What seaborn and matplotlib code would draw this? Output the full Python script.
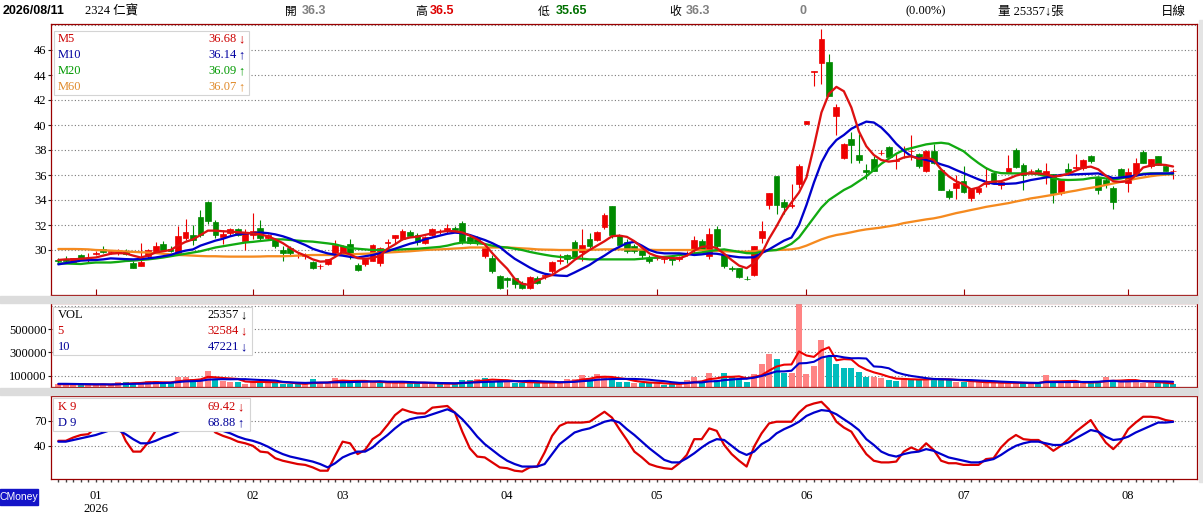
import numpy as np
import pandas as pd
import seaborn as sns
import matplotlib.pyplot as plt
import matplotlib.transforms as mtransforms
from matplotlib.patches import Rectangle

# ---- price data ----
opens = [29.2, 29.3, 29.05, 29.6, 29.3, 29.7, 30.1, 29.85, 29.75, 29.9,
         29.0, 28.75, 29.5, 29.85, 30.5, 30.1, 29.75, 30.95, 31.2, 32.65,
         33.85, 32.2, 31.05, 31.35, 31.65, 30.7, 31.2, 31.75, 30.95, 30.85,
         30.0, 30.15, 29.6, 29.5, 29.05, 28.7, 28.9, 29.75, 29.8, 30.5,
         28.8, 28.9, 29.15, 29.0, 30.6, 31.0, 30.85, 31.45, 31.2, 30.55,
         31.2, 31.5, 31.6, 31.8, 32.15, 31.05, 30.9, 29.55, 29.4, 27.9,
         27.75, 27.75, 27.35, 26.95, 27.75, 27.9, 28.3, 29.1, 29.6, 30.65,
         29.85, 30.85, 30.8, 31.85, 33.5, 31.2, 30.65, 30.3, 30.0, 29.4,
         29.4, 29.3, 29.4, 29.3, 29.65, 30.0, 30.75, 29.5, 31.65, 29.6,
         28.6, 28.55, 27.7, 28.0, 31.0, 33.6, 35.9, 33.85, 33.5, 35.3,
         40.1, 44.25, 45.0, 45.0, 40.7, 37.35, 38.9, 37.6, 36.4, 37.3,
         37.75, 38.25, 37.1, 38.0, 37.9, 37.7, 36.3, 37.95, 36.4, 34.75,
         34.95, 35.5, 34.15, 34.65, 35.3, 36.15, 35.2, 36.25, 38.0, 36.8,
         36.3, 36.4, 36.1, 36.1, 34.55, 36.45, 36.6, 36.55, 37.5, 35.85,
         35.6, 34.95, 36.45, 35.35, 36.0, 37.85, 36.7, 37.5, 36.7, 36.3]
highs = [29.35, 29.5, 29.4, 29.7, 29.75, 29.95, 30.3, 30.0, 30.05, 30.1,
         29.1, 30.6, 30.05, 30.65, 30.7, 30.3, 31.9, 32.5, 32.0, 33.2,
         33.95, 32.4, 31.6, 31.75, 31.8, 31.7, 33.0, 32.4, 31.3, 31.0,
         30.3, 30.3, 29.8, 29.8, 29.1, 28.9, 29.3, 30.8, 30.4, 30.85,
         29.0, 29.3, 30.5, 30.25, 30.85, 31.2, 31.65, 31.6, 31.35, 31.1,
         31.75, 31.7, 32.05, 31.9, 32.35, 31.3, 31.1, 30.3, 29.6, 28.0,
         27.85, 27.8, 27.5, 27.95, 27.9, 28.1, 29.1, 29.7, 29.7, 30.8,
         31.7, 31.4, 31.5, 32.95, 33.55, 31.3, 30.9, 30.5, 30.3, 29.6,
         29.6, 29.5, 29.6, 29.5, 29.9, 31.1, 30.9, 31.75, 31.9, 29.8,
         28.7, 28.6, 27.9, 30.3, 32.3, 34.6, 35.9, 34.1, 35.3, 36.9,
         40.3, 44.3, 47.65, 45.7, 41.7, 38.6, 39.45, 39.3, 36.9, 37.5,
         38.0, 38.3, 37.7, 38.3, 39.2, 37.8, 38.0, 38.5, 36.5, 34.9,
         36.0, 36.7, 34.9, 35.0, 36.65, 36.3, 35.5, 37.6, 38.15, 36.95,
         36.5, 36.6, 37.0, 36.1, 35.6, 37.0, 37.7, 37.3, 37.6, 35.9,
         35.8, 35.1, 36.6, 36.55, 37.35, 38.0, 37.25, 37.55, 36.8, 36.5]
lows = [28.95, 29.0, 28.95, 29.2, 29.05, 29.6, 29.8, 29.7, 29.6, 29.6,
        28.6, 28.7, 29.4, 29.75, 29.95, 29.85, 29.7, 30.8, 30.4, 31.05,
        32.1, 31.0, 30.5, 31.1, 31.1, 30.0, 30.9, 30.8, 30.8, 30.2,
        29.1, 29.6, 29.4, 29.3, 28.5, 28.5, 28.8, 29.6, 29.7, 29.25,
        28.3, 28.75, 29.1, 28.75, 30.0, 30.6, 30.8, 31.1, 30.4, 30.5,
        31.1, 31.3, 31.35, 31.5, 30.5, 30.5, 30.4, 29.4, 28.2, 26.9,
        27.05, 27.0, 26.9, 26.85, 27.3, 27.7, 28.2, 28.9, 29.0, 29.3,
        29.1, 30.2, 30.7, 31.7, 31.0, 30.4, 29.8, 29.8, 29.3, 29.0,
        29.2, 29.0, 28.8, 29.1, 29.5, 29.7, 29.9, 29.3, 30.0, 28.6,
        28.3, 27.8, 27.6, 27.9, 30.6, 33.3, 32.9, 32.9, 33.4, 35.0,
        40.05, 43.1, 43.3, 42.3, 39.2, 37.3, 37.0, 37.0, 35.7, 36.3,
        37.6, 37.4, 36.5, 37.4, 37.2, 36.6, 36.2, 36.9, 34.8, 34.1,
        34.1, 34.6, 33.95, 34.5, 35.05, 35.3, 34.9, 36.2, 36.55, 34.8,
        36.1, 36.1, 35.3, 33.75, 34.4, 36.1, 36.5, 36.4, 37.0, 34.5,
        35.0, 33.25, 35.8, 34.65, 35.9, 36.95, 36.6, 36.8, 36.3, 35.65]
closes = [29.1, 29.15, 29.35, 29.25, 29.4, 29.75, 29.85, 29.9, 30.0, 29.7,
          28.6, 29.05, 30.0, 30.3, 30.0, 29.9, 31.1, 31.45, 30.8, 31.2,
          32.3, 31.2, 31.3, 31.65, 31.2, 31.35, 31.5, 30.95, 31.2, 30.3,
          29.8, 29.75, 29.6, 29.6, 28.55, 28.7, 29.3, 30.4, 30.3, 29.8,
          28.4, 29.3, 30.4, 30.2, 30.65, 31.2, 31.5, 31.15, 30.65, 31.05,
          31.65, 31.5, 31.8, 31.6, 30.65, 30.55, 30.55, 30.2, 28.3, 26.95,
          27.6, 27.3, 26.95, 27.85, 27.35, 28.0, 29.05, 29.2, 29.3, 29.45,
          30.4, 30.3, 31.45, 32.8, 31.2, 30.4, 29.9, 29.95, 29.6, 29.15,
          29.45, 29.35, 29.2, 29.45, 29.7, 30.8, 30.0, 31.3, 30.3, 28.7,
          28.45, 27.85, 27.65, 30.3, 31.55, 34.6, 33.6, 33.45, 33.6, 36.7,
          40.3, 44.3, 46.9, 42.3, 41.4, 38.5, 38.4, 37.2, 36.25, 36.35,
          37.8, 37.45, 37.2, 38.0, 37.9, 36.7, 37.9, 36.95, 34.8, 34.25,
          35.35, 34.65, 34.85, 34.95, 35.35, 35.35, 35.45, 36.55, 36.65, 36.0,
          36.3, 36.2, 36.3, 34.55, 35.6, 36.2, 36.65, 37.2, 37.15, 34.8,
          35.3, 33.85, 35.9, 36.25, 36.95, 37.0, 37.25, 36.8, 36.35, 36.3]

ma5 = [29.2, 29.25, 29.25, 29.3, 29.35, 29.4, 29.55, 29.7, 29.75, 29.73,
       29.55, 29.4, 29.55, 29.8, 29.9, 30.0, 30.35, 30.65, 30.85, 31.2,
       31.55, 31.55, 31.5, 31.48, 31.42, 31.38, 31.33, 31.25, 31.1, 30.85,
       30.55, 30.15, 29.8, 29.55, 29.25, 29.07, 29.1, 29.45, 29.85, 29.65,
       29.35, 29.3, 29.35, 29.55, 30.1, 30.45, 30.85, 31.0, 31.07, 31.2,
       31.35, 31.45, 31.52, 31.5, 31.4, 31.15, 30.85, 30.45, 29.75, 29.1,
       28.5, 27.7, 27.3, 27.2, 27.55, 27.8, 28.0, 28.4, 28.7, 29.2,
       29.6, 30.0, 30.35, 30.7, 31.1, 31.15, 31.05, 30.7, 30.2, 29.73,
       29.5, 29.4, 29.35, 29.33, 29.55, 29.95, 30.25, 30.3, 30.15, 29.7,
       29.2, 28.75, 28.55, 28.95, 29.7, 30.9, 31.9, 33.0, 33.8, 34.6,
       35.8, 38.3, 41.0, 42.5, 43.05, 42.7, 41.4, 39.5, 38.3, 37.6,
       37.2, 37.07, 37.15, 37.4, 37.5, 37.3, 37.4, 37.2, 36.45, 35.9,
       35.5, 35.25, 34.85, 35.0, 35.4, 35.47, 35.5, 35.7, 35.95, 36.1,
       36.13, 36.13, 36.05, 35.87, 35.95, 36.1, 36.35, 36.6, 36.67, 36.45,
       35.95, 35.5, 35.45, 35.5, 35.95, 36.6, 36.75, 36.85, 36.8, 36.68]
ma10 = [28.85, 28.95, 29.05, 29.15, 29.18, 29.2, 29.25, 29.33, 29.3, 29.27,
        29.25, 29.28, 29.33, 29.4, 29.5, 29.6, 29.8, 29.95, 30.05, 30.35,
        30.55, 30.75, 30.9, 31.1, 31.25, 31.33, 31.35, 31.4, 31.35, 31.25,
        31.1, 30.9, 30.65, 30.4, 30.1, 29.9, 29.73, 29.62, 29.55, 29.45,
        29.4, 29.5, 29.6, 29.75, 29.9, 30.1, 30.3, 30.5, 30.65, 30.85,
        31.0, 31.15, 31.3, 31.39, 31.35, 31.2, 31.0, 30.8, 30.55, 30.25,
        29.75, 29.3, 28.95, 28.6, 28.3, 28.1, 28.0, 27.95, 27.92, 28.2,
        28.5, 28.8, 29.2, 29.55, 29.95, 30.25, 30.55, 30.65, 30.35, 30.0,
        29.8, 29.73, 29.73, 29.73, 29.68, 29.6, 29.65, 29.73, 29.7, 29.6,
        29.5, 29.42, 29.4, 29.42, 29.75, 30.05, 30.4, 30.75, 31.0, 32.0,
        33.6, 35.4, 37.0, 38.1, 38.8, 39.2, 39.7, 40.0, 40.27, 40.2,
        39.8, 39.2, 38.5, 37.95, 37.5, 37.35, 37.2, 37.07, 36.85, 36.67,
        36.4, 36.15, 35.9, 35.65, 35.45, 35.3, 35.28, 35.3, 35.33, 35.45,
        35.6, 35.7, 35.8, 35.9, 36.0, 36.03, 36.05, 36.08, 36.1, 36.13,
        35.95, 35.75, 35.8, 35.87, 35.95, 36.05, 36.1, 36.12, 36.13, 36.14]
ma20 = [28.93, 28.92, 28.9, 28.88, 28.95, 29.0, 29.0, 29.0, 29.05, 29.12,
        29.15, 29.2, 29.25, 29.32, 29.4, 29.5, 29.6, 29.7, 29.8, 29.9,
        30.05, 30.2, 30.3, 30.4, 30.5, 30.6, 30.65, 30.72, 30.78, 30.85,
        30.85, 30.8, 30.75, 30.7, 30.67, 30.6, 30.53, 30.45, 30.3, 30.15,
        30.1, 30.05, 30.0, 30.0, 30.0, 30.02, 30.05, 30.08, 30.1, 30.15,
        30.2, 30.25, 30.35, 30.5, 30.6, 30.6, 30.55, 30.48, 30.35, 30.25,
        30.2, 30.1, 30.0, 29.85, 29.73, 29.62, 29.52, 29.45, 29.4, 29.35,
        29.3, 29.25, 29.25, 29.25, 29.25, 29.25, 29.25, 29.25, 29.3, 29.35,
        29.4, 29.45, 29.5, 29.6, 29.65, 29.73, 29.8, 29.9, 30.0, 30.05,
        29.95, 29.85, 29.75, 29.73, 29.85, 29.95, 30.0, 30.2, 30.5, 31.0,
        31.8, 32.6, 33.4, 34.0, 34.4, 34.8, 35.1, 35.5, 35.9, 36.4,
        36.9, 37.3, 37.7, 38.0, 38.15, 38.3, 38.45, 38.53, 38.58, 38.5,
        38.2, 37.9, 37.4, 36.95, 36.55, 36.27, 36.15, 36.13, 36.13, 36.13,
        36.13, 36.05, 35.9, 35.75, 35.62, 35.6, 35.62, 35.65, 35.75, 35.81,
        35.72, 35.65, 35.72, 35.85, 35.95, 36.1, 36.13, 36.12, 36.1, 36.09]
ma60 = [30.08, 30.08, 30.08, 30.07, 30.05, 30.0, 29.98, 29.95, 29.92, 29.88,
        29.85, 29.82, 29.8, 29.75, 29.7, 29.65, 29.6, 29.58, 29.55, 29.52,
        29.5, 29.5, 29.48, 29.47, 29.47, 29.47, 29.47, 29.48, 29.5, 29.5,
        29.5, 29.52, 29.55, 29.58, 29.6, 29.6, 29.6, 29.6, 29.62, 29.65,
        29.68, 29.7, 29.73, 29.77, 29.8, 29.83, 29.87, 29.9, 29.95, 30.0,
        30.03, 30.05, 30.08, 30.12, 30.15, 30.2, 30.2, 30.2, 30.2, 30.2,
        30.2, 30.17, 30.13, 30.1, 30.05, 30.03, 30.02, 30.0, 30.0, 30.0,
        30.0, 30.02, 30.03, 30.05, 30.05, 30.05, 30.05, 30.05, 30.03, 30.02,
        30.0, 30.0, 30.0, 30.0, 30.0, 30.0, 29.98, 29.95, 29.93, 29.9,
        29.88, 29.87, 29.87, 29.9, 29.95, 30.0, 30.0, 30.02, 30.05, 30.15,
        30.35, 30.6, 30.85, 31.05, 31.2, 31.3, 31.42, 31.55, 31.65, 31.72,
        31.8, 31.9, 32.0, 32.15, 32.25, 32.35, 32.45, 32.53, 32.65, 32.8,
        32.95, 33.07, 33.2, 33.32, 33.45, 33.55, 33.65, 33.75, 33.88, 34.0,
        34.13, 34.22, 34.32, 34.42, 34.53, 34.65, 34.75, 34.87, 34.97, 35.07,
        35.2, 35.32, 35.45, 35.58, 35.7, 35.8, 35.9, 35.98, 36.03, 36.07]

# ---- volume (thousand lots) ----
vol_k = [25, 22, 30, 28, 22, 18, 25, 20, 46, 46,
         40, 34, 50, 54, 36, 34, 86, 86, 68, 68,
         140, 69, 57, 48, 48, 30, 48, 55, 45, 40,
         32, 30, 25, 25, 71, 43, 43, 77, 57, 50,
         48, 45, 45, 40, 35, 40, 45, 40, 35, 34,
         30, 28, 34, 30, 63, 60, 71, 77, 57, 50,
         48, 40, 38, 45, 40, 35, 45, 40, 71, 71,
         106, 77, 115, 86, 63, 48, 45, 40, 40, 34,
         34, 20, 28, 28, 63, 86, 48, 126, 63, 126,
         86, 69, 48, 115, 201, 287, 244, 126, 126, 760,
         115, 183, 408, 258, 201, 164, 169, 135, 92, 86,
         77, 63, 57, 77, 69, 69, 69, 69, 69, 63,
         48, 48, 43, 43, 40, 40, 34, 40, 40, 34,
         34, 34, 106, 48, 40, 40, 43, 40, 40, 57,
         86, 55, 50, 63, 57, 35, 35, 34, 33, 25.357]
vol_ma5_k = [26, 26, 26, 26, 25, 24, 25, 23, 26, 31,
             35, 37, 43, 45, 43, 42, 52, 59, 62, 68,
             90, 86, 80, 76, 72, 50, 46, 46, 45, 44,
             44, 40, 34, 30, 37, 39, 41, 52, 58, 54,
             55, 55, 49, 46, 43, 41, 41, 40, 39, 39,
             37, 33, 32, 31, 37, 43, 52, 60, 66, 63,
             61, 54, 47, 44, 42, 40, 41, 41, 46, 52,
             67, 73, 88, 91, 89, 78, 71, 56, 47, 41,
             39, 34, 31, 29, 35, 45, 51, 70, 77, 90,
             90, 94, 78, 89, 104, 144, 179, 195, 197, 309,
             274, 262, 318, 345, 233, 243, 240, 185, 152, 129,
             112, 91, 75, 72, 69, 67, 68, 71, 69, 68,
             64, 59, 54, 49, 44, 43, 40, 39, 39, 38,
             36, 36, 50, 51, 52, 54, 55, 42, 41, 44,
             53, 56, 58, 62, 62, 52, 48, 45, 39, 32.584]
vol_ma10_k = [30, 30, 29, 28, 27, 26, 26, 25, 26, 28,
              30, 31, 33, 36, 37, 39, 45, 51, 53, 56,
              66, 69, 70, 69, 70, 70, 66, 63, 61, 58,
              47, 43, 40, 38, 40, 41, 41, 43, 44, 45,
              47, 48, 50, 52, 48, 48, 48, 45, 42, 41,
              39, 37, 36, 35, 38, 40, 43, 46, 48, 50,
              52, 53, 53, 55, 53, 50, 48, 44, 45, 47,
              53, 57, 65, 69, 71, 72, 72, 72, 69, 65,
              58, 53, 44, 38, 38, 42, 42, 51, 53, 62,
              67, 72, 74, 83, 97, 117, 137, 137, 143, 206,
              209, 220, 256, 270, 270, 258, 250, 251, 248, 180,
              176, 164, 129, 111, 98, 89, 79, 72, 70, 68,
              65, 63, 62, 58.5, 56, 53, 49, 46, 43, 40.5,
              39, 38, 45, 45, 45, 45, 46, 46, 46, 48,
              53, 56, 50, 51, 53, 53, 52, 51, 50.5, 47.221]

# ---- KD(9) ----
k9 = [46, 46, 50, 53, 54, 62, 70, 72, 66, 46,
      33, 33, 44, 58, 68, 74, 80, 84, 82, 78,
      66, 56, 52, 49, 45, 43, 40, 33, 32, 25,
      22, 20, 18, 17, 14, 10, 10, 28, 45, 43,
      30, 35, 48, 54, 65, 77, 84, 81, 79, 79,
      86, 87, 88, 80, 57, 37, 27, 26, 20, 14,
      13, 10, 9, 14, 15, 32, 52, 64, 68, 68,
      68, 69, 75, 81, 74, 60, 47, 33, 26, 18,
      15, 13, 12, 19, 29, 48, 48, 61, 58, 41,
      30, 22, 15, 39, 55, 67, 69, 69, 69, 80,
      88, 91, 93, 84, 69, 62, 57, 43, 30, 22,
      20, 20, 21, 33, 38, 34, 43, 35, 22, 19,
      19, 17, 17, 17, 24, 25, 38, 47, 53, 48,
      47, 47, 41, 34, 40, 48, 57, 64, 71, 57,
      44, 36, 45, 60, 68, 75, 75, 74, 71, 69.42]
d9 = [45, 45, 47, 49, 51, 53, 56, 59, 59, 54,
      48, 43, 43, 46, 50, 53, 57, 61, 65, 68,
      67, 62, 58, 55, 51, 48, 46, 43, 39, 34,
      30, 27, 25, 23, 21, 18, 14, 19, 26, 30,
      33, 33, 38, 46, 53, 61, 68, 72, 74, 75,
      78, 81, 84, 80, 72, 62, 51, 42, 35, 28,
      22, 18, 15, 15, 15, 18, 30, 42, 49, 56,
      59, 61, 65, 69, 71, 68, 60, 53, 45, 37,
      30, 23, 20, 20, 25, 31, 38, 44, 48, 47,
      40, 33, 29, 33, 42, 47, 55, 60, 64, 69,
      76, 80, 83, 82, 78, 72, 66, 59, 48, 41,
      33, 29, 27, 30, 32, 33, 36, 34, 30, 26,
      24, 22, 20, 20, 22, 24, 29, 35, 40, 43,
      45, 45, 43, 41, 41, 44, 49, 54, 59, 57,
      51, 47, 48, 51, 56, 60, 64, 68, 68, 68.88]

month_idx = [5, 26, 38, 60, 80, 100, 121, 143]
month_labels = ['01', '02', '03', '04', '05', '06', '07', '08']

price_ticks = [30, 32, 34, 36, 38, 40, 42, 44, 46]
price_grid = [30, 32, 34, 36, 38, 40, 42, 44, 46, 48]
vol_ticks = [100000, 300000, 500000]
vol_grid = [100000, 300000, 500000, 700000]
kd_ticks = [40, 70]

# ---- colours ----
RED = '#EE0000'
GREEN = '#008A00'
FRAME = '#9A0000'
C_MA5 = '#DD1111'
C_MA10 = '#0000CC'
C_MA20 = '#11AA11'
C_MA60 = '#F58A1F'
VOL_UP = '#FF8484'
VOL_DN = '#00BDBD'

df = pd.DataFrame({'i': np.arange(len(closes)), 'o': opens, 'h': highs, 'l': lows,
                   'c': closes, 'ma5': ma5, 'ma10': ma10, 'ma20': ma20, 'ma60': ma60,
                   'vol': np.array(vol_k) * 1000, 'v5': np.array(vol_ma5_k) * 1000,
                   'v10': np.array(vol_ma10_k) * 1000, 'k': k9, 'd': d9})

sns.set_theme(style='white')
plt.rcParams['font.family'] = ['Liberation Serif', 'Noto Sans CJK TC', 'DejaVu Sans']

W, H = 1203, 515
fig = plt.figure(figsize=(W / 100, H / 100), dpi=100)
fig.patch.set_facecolor('white')
pix = mtransforms.Affine2D().scale(1.0 / W, -1.0 / H).translate(0, 1) + fig.transFigure


def panel(l, t, r, b):
    return fig.add_axes([l / W, 1 - b / H, (r - l) / W, (b - t) / H])


ax_p = panel(51, 24, 1197, 295)
ax_v = panel(51, 303.3, 1197, 387.3)
ax_k = panel(51, 396, 1197, 479)

# gray bands between panels and right strip
for (x0, y0, w, h) in [(0, 296, W, 7), (0, 388.3, W, 7)]:
    fig.add_artist(Rectangle((x0, y0), w, h, transform=pix, color='#DCDCDC', zorder=1))
fig.add_artist(Rectangle((1198.5, 20), 5, 462, transform=pix, color='#E4E4E4', zorder=1))

# ---- candles ----
up = df['c'] >= df['o']
ccol = np.where(up, RED, GREEN)
ax_p.vlines(df['i'], df['l'], df['h'], colors=ccol, linewidth=0.8, zorder=2)
body = (df['c'] - df['o']).abs().clip(lower=0.001)
ax_p.bar(df['i'], body, bottom=np.minimum(df['o'], df['c']), width=0.78,
         color=ccol, edgecolor=ccol, linewidth=0.5, zorder=3)

for col, c in [('ma60', C_MA60), ('ma20', C_MA20), ('ma10', C_MA10), ('ma5', C_MA5)]:
    sns.lineplot(data=df, x='i', y=col, ax=ax_p, color=c, linewidth=1.65,
                 estimator=None, sort=False, legend=False, zorder=4)

# ---- volume ----
prev = df['c'].shift(1).fillna(df['c'].iloc[0])
vcol = np.where(df['c'] >= prev, VOL_UP, VOL_DN)
ax_v.bar(df['i'], df['vol'], width=0.8, color=vcol, linewidth=0, zorder=2)
sns.lineplot(data=df, x='i', y='v5', ax=ax_v, color=RED, linewidth=1.5,
             estimator=None, sort=False, legend=False, zorder=4)
sns.lineplot(data=df, x='i', y='v10', ax=ax_v, color=C_MA10, linewidth=1.5,
             estimator=None, sort=False, legend=False, zorder=4)

# ---- KD ----
sns.lineplot(data=df, x='i', y='k', ax=ax_k, color='#DD0000', linewidth=1.6,
             estimator=None, sort=False, legend=False, zorder=4)
sns.lineplot(data=df, x='i', y='d', ax=ax_k, color=C_MA10, linewidth=1.6,
             estimator=None, sort=False, legend=False, zorder=4)

# ---- axes styling ----
dotted = dict(linestyle=(0, (1, 2)), color='#7A7A7A', linewidth=0.8, zorder=1)
for y in price_grid:
    ax_p.axhline(y, **dotted)
for y in vol_grid:
    ax_v.axhline(y, **dotted)
for y in kd_ticks:
    ax_k.axhline(y, **dotted)

ax_p.set_ylim(26.4, 48.08)
ax_v.set_ylim(0, 724000)
ax_k.set_ylim(0, 100)
ax_p.set_yticks(price_ticks, [str(v) for v in price_ticks])
ax_v.set_yticks(vol_ticks, [str(v) for v in vol_ticks])
ax_k.set_yticks(kd_ticks, [str(v) for v in kd_ticks])

for ax in (ax_p, ax_v, ax_k):
    ax.set_xlim(-0.98, 152.2)
    ax.set_xlabel('')
    ax.set_ylabel('')
    ax.set_facecolor('white')
    for s in ax.spines.values():
        s.set_visible(True)
        s.set_color(FRAME)
        s.set_linewidth(0.9)
    ax.tick_params(axis='y', which='major', left=True, length=2, width=0.8,
                   color='#222222', pad=1.2, labelsize=9, labelcolor='black')

ax_p.set_xticks(month_idx)
ax_p.tick_params(axis='x', which='major', bottom=True, direction='in', length=4,
                 width=0.8, color=FRAME, labelbottom=False)
ax_v.set_xticks([])
ax_k.set_xticks([])
ax_k.set_xticks(df['i'], minor=True)
ax_k.tick_params(axis='x', which='minor', bottom=True, direction='out', length=2,
                 width=1, color='#444444', labelbottom=False)

# month labels under the KD panel
lab_tr = mtransforms.blended_transform_factory(ax_k.transData, pix)
for pos, lab in zip(month_idx, month_labels):
    ax_k.text(pos, 496, lab, transform=lab_tr, ha='center', va='center',
              fontsize=9, color='black', clip_on=False)
ax_k.text(month_idx[0], 509, '2026', transform=lab_tr, ha='center', va='center',
          fontsize=9, color='black', clip_on=False)


# ---- legend boxes ----
def legend_box(x0, y0, x1, y1, rows, ys, xl, xr):
    fig.add_artist(Rectangle((x0, y0), x1 - x0, y1 - y0, transform=pix, facecolor='white',
                             edgecolor='#D4D4D4', linewidth=0.8, zorder=5))
    for (lab, val, arrow, c), y in zip(rows, ys):
        fig.text(xl, y, lab, transform=pix, color=c, fontsize=9, va='center', ha='left', zorder=6)
        fig.text(xr - 8, y, val, transform=pix, color=c, fontsize=9, va='center', ha='right', zorder=6)
        fig.text(xr, y, arrow, transform=pix, color=c, fontsize=9, va='center', ha='right', zorder=6)


legend_box(54, 31, 249, 95,
           [('M5', '36.68', '↓', '#CC0000'), ('M10', '36.14', '↑', '#0000A0'),
            ('M20', '36.09', '↑', '#009900'), ('M60', '36.07', '↑', '#E08A2A')],
           [39, 55, 71, 87], 57.5, 245)
legend_box(53, 307, 252, 355,
           [('VOL', '25357', '↓', 'black'), ('5', '32584', '↓', '#CC0000'),
            ('10', '47221', '↓', '#000099')],
           [315, 331, 347], 57.5, 247)
legend_box(53, 398, 250, 431,
           [('K 9', '69.42', '↓', '#CC0000'), ('D 9', '68.88', '↑', '#000099')],
           [407.5, 423], 57.5, 244)

# ---- header ----
sans_b = dict(family=['Liberation Sans', 'DejaVu Sans'], fontweight='bold')
cjk = ['Noto Sans CJK TC', 'DejaVu Sans']
hy = 11.5
fig.text(3, hy, '2026/08/11', transform=pix, fontsize=9, va='center', color='black', **sans_b)
fig.text(85, hy, '2324 仁寶', transform=pix, fontsize=9, va='center', color='black')
for x, ch, vx, val, c in [(285, '開', 302, '36.3', '#808080'), (415, '高', 430, '36.5', '#DD0000'),
                          (538, '低', 556, '35.65', '#007000'), (669, '收', 686, '36.3', '#808080')]:
    fig.text(x, hy, ch, transform=pix, fontsize=8.5, va='center', color='black', family=cjk)
    fig.text(vx, hy, val, transform=pix, fontsize=9, va='center', color=c, **sans_b)
fig.text(799, hy, '0', transform=pix, fontsize=9, va='center', color='#808080', **sans_b)
fig.text(906, hy, '(0.00%)', transform=pix, fontsize=9, va='center', color='black')
fig.text(998, hy, '量 25357↓張', transform=pix, fontsize=9, va='center', color='black')
fig.text(1161, hy, '日線', transform=pix, fontsize=9, va='center', color='black', family=cjk)

# ---- CMoney tag ----
fig.add_artist(Rectangle((0, 489), 38, 16, transform=pix, color='#1414C8', zorder=5))
fig.text(19, 497, 'CMoney', transform=pix, fontsize=7.5, va='center', ha='center',
         color='white', family=['Liberation Sans', 'DejaVu Sans'], zorder=6)

fig.savefig('out.png', dpi=100, facecolor='white')
